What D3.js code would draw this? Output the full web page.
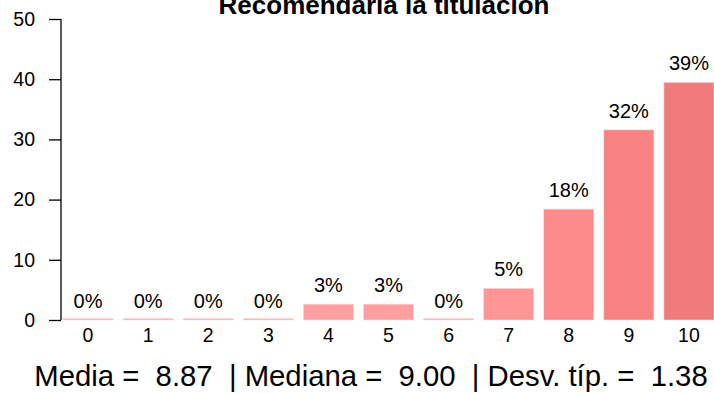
<!DOCTYPE html>
<html>
<head>
<meta charset="utf-8">
<script src="https://cdn.jsdelivr.net/npm/d3@7"></script>
<style>
  html, body { margin: 0; padding: 0; background: #fff; }
  svg { display: block; font-family: "Liberation Sans", Arial, sans-serif; }
</style>
</head>
<body>
<svg id="chart" width="714" height="394"></svg>
<script>
// Scores 0..10 and the share of answers (%) for each score
const categories = ["0", "1", "2", "3", "4", "5", "6", "7", "8", "9", "10"];
const percents = [0, 0, 0, 0, 2.63, 2.63, 0, 5.26, 18.42, 31.58, 39.47];
const barColors = ["#ffb0b0", "#ffb0b0", "#ffb0b0", "#ffb0b0", "#ff9f9f", "#ff9f9f",
                   "#ffb0b0", "#ff9595", "#fe8b8b", "#f88282", "#f07b7b"];
const yTicks = [0, 10, 20, 30, 40, 50];
const title = "Recomendaría la titulación";
const stats = "Media =  8.87  | Mediana =  9.00  | Desv. típ. =  1.38";

const FONT = "Liberation Sans, Arial, sans-serif";
const svg = d3.select("#chart");

const y = d3.scaleLinear().domain([0, 50]).range([320, 19]);
const x = d3.scaleBand().domain(categories).range([63 - 5, 714 + 5]).paddingInner(0.1667).paddingOuter(0.0833);

// Bars
svg.append("g").selectAll("rect")
  .data(percents)
  .join("rect")
  .attr("x", (d, i) => x(categories[i]))
  .attr("width", x.bandwidth())
  .attr("y", d => Math.min(y(d), y(0) - 1.5))
  .attr("height", d => Math.max(y(0) - y(d), 1.5))
  .attr("fill", (d, i) => barColors[i])
  .attr("stroke", "#ffd6d6")
  .attr("stroke-width", 0.6);

// Value labels above bars
svg.append("g").selectAll("text")
  .data(percents)
  .join("text")
  .attr("x", (d, i) => x(categories[i]) + x.bandwidth() / 2)
  .attr("y", d => y(d) - 12)
  .attr("text-anchor", "middle")
  .attr("font-size", 20)
  .attr("fill", "#000")
  .text(d => Math.round(d) + "%");

// Y axis
const yAxis = d3.axisLeft(y).tickValues(yTicks).tickSize(12).tickPadding(14);
const gy = svg.append("g").attr("transform", "translate(61,0)").call(yAxis);
gy.select(".domain").attr("d", `M0,${y(50)}V${y(0)}`).attr("stroke", "#000").attr("stroke-width", 1.3);
gy.selectAll(".tick line").attr("stroke", "#000").attr("stroke-width", 1.3);
gy.selectAll(".tick text").attr("font-size", 19.5).attr("font-family", FONT).attr("fill", "#000");

// X category labels (no axis line)
const xAxis = d3.axisBottom(x).tickSize(0).tickPadding(7);
const gx = svg.append("g").attr("transform", "translate(0,321)").call(xAxis);
gx.select(".domain").remove();
gx.selectAll(".tick text").attr("font-size", 19.5).attr("font-family", FONT).attr("fill", "#000");

// Title
svg.append("text")
  .attr("x", 384).attr("y", 14)
  .attr("text-anchor", "middle")
  .attr("font-size", 26).attr("font-weight", "bold")
  .text(title);

// Summary statistics
svg.append("text")
  .attr("x", 371).attr("y", 386)
  .attr("text-anchor", "middle")
  .attr("font-size", 29.3)
  .attr("xml:space", "preserve")
  .style("white-space", "pre")
  .text(stats);
</script>
</body>
</html>
